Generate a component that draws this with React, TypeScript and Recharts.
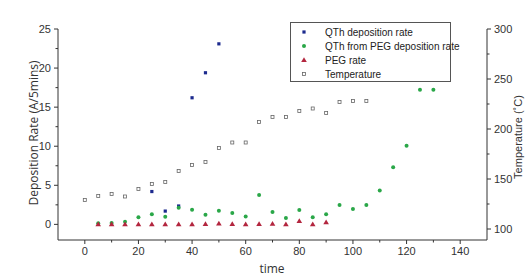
import React from 'react'
import { Legend, Scatter, ScatterChart, XAxis, YAxis } from 'recharts';

// DATA
const qthTimes = [25, 30, 35, 40, 45, 50];
const qthRate = [4.2, 1.7, 2.35, 16.2, 19.4, 23.1];

const pegQthTimes = [5, 10, 15, 20, 25, 30, 35, 40, 45, 50, 55, 60, 65, 70, 75, 80, 85, 90, 95, 100, 105, 110, 115, 120, 125, 130];
const pegQthRate = [0.13, 0.17, 0.33, 0.9, 1.28, 0.97, 2.13, 1.87, 1.23, 1.74, 1.45, 1.02, 3.75, 1.57, 0.8, 1.83, 0.9, 1.28, 2.47, 1.96, 2.47, 4.35, 7.3, 10.06, 17.23, 17.23];

const pegTimes = [5, 10, 15, 20, 25, 30, 35, 40, 45, 50, 55, 60, 65, 70, 75, 80, 85, 90];
const pegRate = [0, 0, 0, 0, 0, 0, 0, 0, 0.05, 0.1, 0.05, 0, 0.05, 0.08, 0, 0.42, 0, 0.26];

const tempTimes = [0, 5, 10, 15, 20, 25, 30, 35, 40, 45, 50, 55, 60, 65, 70, 75, 80, 85, 90, 95, 100, 105];
const temperature = [129, 133, 135, 132.5, 140, 145, 147, 158, 164, 167, 181, 186.5, 186.5, 207, 212, 212, 218, 220.5, 216, 227, 228, 228];

const xTicks = [0, 10, 20, 30, 40, 50, 60, 70, 80, 90, 100, 110, 120, 130, 140];
const xLabels = [0, 20, 40, 60, 80, 100, 120, 140];
const leftTicks = [0, 2.5, 5, 7.5, 10, 12.5, 15, 17.5, 20, 22.5, 25];
const leftLabels = [0, 5, 10, 15, 20, 25];
const rightTicks = [100, 125, 150, 175, 200, 225, 250, 275, 300];
const rightLabels = [100, 150, 200, 250, 300];

const toPoints = (xs: number[], ys: number[]) => xs.map((x, i) => ({ x, y: ys[i] }));

const AXIS = '#333';
const TICK_FONT = '"Liberation Sans", Arial, sans-serif';
const BLUE = '#1c2a8e';
const GREEN = '#2aa748';
const RED = '#b3263f';
const GREY = '#666';

const TICK_SIZE = 4;
const TICK_MARGIN = 3;

//CUSTOM TICKS (major ticks with labels, minor ticks without)
const bottomTick = ({ x, y, payload }: any) => {
    const major = xLabels.includes(payload.value);
    const axisY = y - TICK_SIZE - TICK_MARGIN;
    return (
        <g>
            <line x1={x} x2={x} y1={axisY} y2={axisY + (major ? 4 : 2.5)} stroke={AXIS} />
            {major && (
                <text x={x} y={y} dy="0.75em" textAnchor="middle" fontSize={11} fontFamily={TICK_FONT} fill={AXIS}>
                    {payload.value}
                </text>
            )}
        </g>
    );
};

const leftTick = ({ x, y, payload }: any) => {
    const major = leftLabels.includes(payload.value);
    const axisX = x + TICK_SIZE + TICK_MARGIN;
    return (
        <g>
            <line x1={axisX - (major ? 4 : 2.5)} x2={axisX} y1={y} y2={y} stroke={AXIS} />
            {major && (
                <text x={x} y={y} dy="0.36em" textAnchor="end" fontSize={11} fontFamily={TICK_FONT} fill={AXIS}>
                    {payload.value}
                </text>
            )}
        </g>
    );
};

const rightTick = ({ x, y, payload }: any) => {
    const major = rightLabels.includes(payload.value);
    const axisX = x - TICK_SIZE - TICK_MARGIN;
    return (
        <g>
            <line x1={axisX} x2={axisX + (major ? 4 : 2.5)} y1={y} y2={y} stroke={AXIS} />
            {major && (
                <text x={x} y={y} dy="0.36em" textAnchor="start" fontSize={11} fontFamily={TICK_FONT} fill={AXIS}>
                    {payload.value}
                </text>
            )}
        </g>
    );
};

//MARKERS
const squareShape = ({ cx, cy }: any) => <rect x={cx - 1.6} y={cy - 1.6} width={3.2} height={3.2} fill={BLUE} />;
const dotShape = ({ cx, cy }: any) => <circle cx={cx} cy={cy} r={2} fill={GREEN} />;
const triangleShape = ({ cx, cy }: any) => <path d={`M${cx},${cy - 2.8}L${cx + 2.8},${cy + 2}L${cx - 2.8},${cy + 2}Z`} fill={RED} />;
const openSquareShape = ({ cx, cy }: any) => (
    <rect x={cx - 1.5} y={cy - 1.5} width={3} height={3} fill="none" stroke={GREY} strokeWidth={0.8} />
);

const legendItems = [
    { name: 'QTh deposition rate', shape: squareShape },
    { name: 'QTh from PEG deposition rate', shape: dotShape },
    { name: 'PEG rate', shape: triangleShape },
    { name: 'Temperature', shape: openSquareShape },
];

const renderLegend = () => (
    <div style={{ width: 161, height: 60, border: '1px solid #555', background: '#fff', boxSizing: 'border-box', paddingTop: 2 }}>
        {legendItems.map((item) => (
            <div key={item.name} style={{ display: 'flex', alignItems: 'center', height: 14, paddingLeft: 8 }}>
                <svg width={10} height={10} style={{ marginRight: 16, flexShrink: 0 }}>
                    {item.shape({ cx: 5, cy: 5 })}
                </svg>
                <span style={{ fontSize: 10, fontFamily: TICK_FONT, color: '#222', whiteSpace: 'nowrap' }}>{item.name}</span>
            </div>
        ))}
    </div>
);

export default function App() {
    return (
        <div style={{ position: 'absolute', left: 0, top: 0, width: 531, height: 279, background: '#fff' }}>
            <ScatterChart width={531} height={279} margin={{ top: 29, right: 4, bottom: 9, left: 18 }}>
                <XAxis
                    type="number"
                    dataKey="x"
                    domain={[-10, 150]}
                    allowDataOverflow
                    ticks={xTicks}
                    interval={0}
                    height={30}
                    stroke={AXIS}
                    tickLine={false}
                    tickSize={TICK_SIZE}
                    tickMargin={TICK_MARGIN}
                    tick={bottomTick}
                />
                <YAxis
                    yAxisId="left"
                    type="number"
                    dataKey="y"
                    domain={[-2, 25]}
                    allowDataOverflow
                    ticks={leftTicks}
                    interval={0}
                    width={40}
                    stroke={AXIS}
                    tickLine={false}
                    tickSize={TICK_SIZE}
                    tickMargin={TICK_MARGIN}
                    tick={leftTick}
                />
                <YAxis
                    yAxisId="right"
                    orientation="right"
                    type="number"
                    dataKey="y"
                    domain={[89, 300]}
                    allowDataOverflow
                    ticks={rightTicks}
                    interval={0}
                    width={40}
                    stroke={AXIS}
                    tickLine={false}
                    tickSize={TICK_SIZE}
                    tickMargin={TICK_MARGIN}
                    tick={rightTick}
                />
                <Scatter name="QTh deposition rate" yAxisId="left" data={toPoints(qthTimes, qthRate)} shape={squareShape} isAnimationActive={false} />
                <Scatter name="QTh from PEG deposition rate" yAxisId="left" data={toPoints(pegQthTimes, pegQthRate)} shape={dotShape} isAnimationActive={false} />
                <Scatter name="PEG rate" yAxisId="left" data={toPoints(pegTimes, pegRate)} shape={triangleShape} isAnimationActive={false} />
                <Scatter name="Temperature" yAxisId="right" data={toPoints(tempTimes, temperature)} shape={openSquareShape} isAnimationActive={false} />
                <Legend
                    layout="horizontal"
                    verticalAlign="middle"
                    align="center"
                    content={renderLegend}
                    wrapperStyle={{ left: 290, top: 22, width: 161, height: 60 }}
                />
            </ScatterChart>
            <div style={{ position: 'absolute', left: 33, top: 133, transform: 'translate(-50%, -50%) rotate(-90deg)', whiteSpace: 'nowrap', fontSize: 12, fontFamily: '"Open Sans", sans-serif', color: '#333' }}>
                Deposition Rate (A/5mins)
            </div>
            <div style={{ position: 'absolute', left: 518, top: 137, transform: 'translate(-50%, -50%) rotate(-90deg)', whiteSpace: 'nowrap', fontSize: 11, fontFamily: TICK_FONT, color: '#333' }}>
                Temperature (˚C)
            </div>
            <div style={{ position: 'absolute', left: 272, top: 268, transform: 'translate(-50%, -50%)', whiteSpace: 'nowrap', fontSize: 12, fontFamily: '"Open Sans", sans-serif', color: '#333' }}>
                time
            </div>
        </div>
    )
}
